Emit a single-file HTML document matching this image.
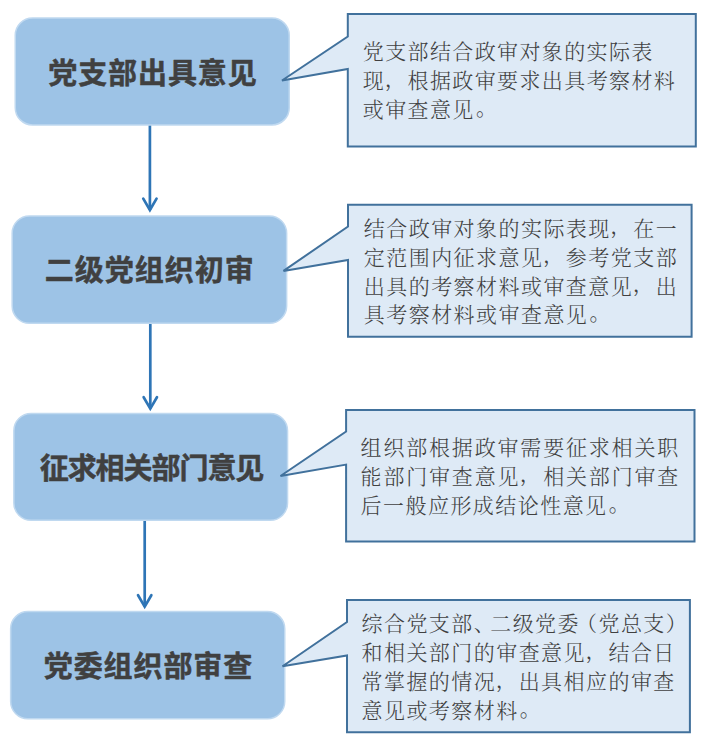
<!DOCTYPE html>
<html lang="zh-CN">
<head>
<meta charset="utf-8">
<title>政审流程</title>
<style>
html,body{margin:0;padding:0;background:#fff;}
body{width:709px;height:752px;overflow:hidden;position:relative;}
svg{position:absolute;left:0;top:0;display:block;}
.t{font-family:"Liberation Sans","Noto Sans CJK SC",sans-serif;font-weight:700;font-size:29px;fill:#404040;stroke:#404040;stroke-width:0.5px;stroke-linejoin:round;}
.d{font-family:"Liberation Serif","Noto Serif CJK SC",serif;font-weight:300;font-size:21.0px;fill:#404040;}
</style>
</head>
<body>
<svg width="709" height="752" viewBox="0 0 709 752">
<path d="M149.9 125.0V210.00" stroke="#2E75B6" stroke-width="2.7" fill="none"/>
<path d="M143.25 198.65L149.9 210.00L156.55 198.65" stroke="#2E75B6" stroke-width="2.7" fill="none" stroke-linecap="round" stroke-linejoin="miter"/>
<path d="M150.3 323.5V408.60" stroke="#2E75B6" stroke-width="2.7" fill="none"/>
<path d="M143.65 397.25L150.3 408.60L156.95 397.25" stroke="#2E75B6" stroke-width="2.7" fill="none" stroke-linecap="round" stroke-linejoin="miter"/>
<path d="M144.7 520.5V606.60" stroke="#2E75B6" stroke-width="2.7" fill="none"/>
<path d="M138.05 595.25L144.7 606.60L151.35 595.25" stroke="#2E75B6" stroke-width="2.7" fill="none" stroke-linecap="round" stroke-linejoin="miter"/>
<rect x="15.25" y="18.05" width="274.00" height="106.90" rx="17.25" ry="17.25" fill="#9DC3E6" stroke="#C0D9F0" stroke-width="1.5"/>
<rect x="12.15" y="215.95" width="274.50" height="107.30" rx="17.25" ry="17.25" fill="#9DC3E6" stroke="#C0D9F0" stroke-width="1.5"/>
<rect x="13.85" y="413.45" width="273.70" height="106.80" rx="17.25" ry="17.25" fill="#9DC3E6" stroke="#C0D9F0" stroke-width="1.5"/>
<rect x="10.65" y="611.55" width="274.10" height="107.30" rx="17.25" ry="17.25" fill="#9DC3E6" stroke="#C0D9F0" stroke-width="1.5"/>
<path d="M347.8 14H695.8V146.5H347.8V69L282 80.5L347.8 36.5Z" fill="#DEEAF6" stroke="#41719C" stroke-width="2" stroke-linejoin="miter"/>
<path d="M348 204.7H691.6V336.8H348V260L283.5 270.9L348 226.5Z" fill="#DEEAF6" stroke="#41719C" stroke-width="2" stroke-linejoin="miter"/>
<path d="M346.1 410.1H694.5V541.4H346.1V464.6L280.5 476L346.1 431.5Z" fill="#DEEAF6" stroke="#41719C" stroke-width="2" stroke-linejoin="miter"/>
<path d="M347 600H689.9V732.2H347V655.5L282.5 666.2L347 622Z" fill="#DEEAF6" stroke="#41719C" stroke-width="2" stroke-linejoin="miter"/>
<text class="t" x="48.3" y="83.6" style="letter-spacing:0.9px">党支部出具意见</text>
<text class="t" x="44.8" y="281.1" style="letter-spacing:1.0px">二级党组织初审</text>
<text class="t" x="39.7" y="479.2" style="letter-spacing:-1.05px">征求相关部门意见</text>
<text class="t" x="43.8" y="677.4" style="letter-spacing:0.9px">党委组织部审查</text>
<text class="d" x="362.8" y="59.2" style="letter-spacing:1.38px">党支部结合政审对象的实际表</text>
<text class="d" x="362.8" y="88.1" style="letter-spacing:1.38px">现<tspan dx="-0.5" dy="-2.6">，</tspan><tspan dx="0.5" dy="2.6">根</tspan>据政审要求出具考察材料</text>
<text class="d" x="362.8" y="117.0" style="letter-spacing:1.38px">或审查意见<tspan dx="1.2" dy="-2">。</tspan></text>
<text class="d" x="363.8" y="235.7" style="letter-spacing:1.45px">结合政审对象的实际表现<tspan dx="-0.5" dy="-2.6">，</tspan><tspan dx="0.5" dy="2.6">在</tspan>一</text>
<text class="d" x="363.8" y="264.6" style="letter-spacing:1.45px">定范围内征求意见<tspan dx="-0.5" dy="-2.6">，</tspan><tspan dx="0.5" dy="2.6">参</tspan>考党支部</text>
<text class="d" x="363.8" y="293.5" style="letter-spacing:1.45px">出具的考察材料或审查意见<tspan dx="-0.5" dy="-2.6">，</tspan><tspan dx="0.5" dy="2.6">出</tspan></text>
<text class="d" x="363.8" y="322.4" style="letter-spacing:1.45px">具考察材料或审查意见<tspan dx="1.2" dy="-2">。</tspan></text>
<text class="d" x="360.6" y="455.0" style="letter-spacing:1.82px">组织部根据政审需要征求相关职</text>
<text class="d" x="360.6" y="483.9" style="letter-spacing:1.82px">能部门审查意见<tspan dx="-0.5" dy="-2.6">，</tspan><tspan dx="0.5" dy="2.6">相</tspan>关部门审查</text>
<text class="d" x="360.6" y="512.8" style="letter-spacing:1.45px">后一般应形成结论性意见<tspan dx="1.2" dy="-2">。</tspan></text>
<text class="d" x="361.5" y="631.3" style="letter-spacing:1.45px">综合党支部、<tspan dx="-6">二</tspan>级党委<tspan dx="-4">（</tspan>党总支）</text>
<text class="d" x="361.5" y="660.2" style="letter-spacing:1.45px">和相关部门的审查意见<tspan dx="-0.5" dy="-2.6">，</tspan><tspan dx="0.5" dy="2.6">结</tspan>合日</text>
<text class="d" x="361.5" y="689.1" style="letter-spacing:1.45px">常掌握的情况<tspan dx="-0.5" dy="-2.6">，</tspan><tspan dx="0.5" dy="2.6">出</tspan>具相应的审查</text>
<text class="d" x="361.5" y="718.0" style="letter-spacing:1.45px">意见或考察材料<tspan dx="1.2" dy="-2">。</tspan></text>
</svg>
</body>
</html>
